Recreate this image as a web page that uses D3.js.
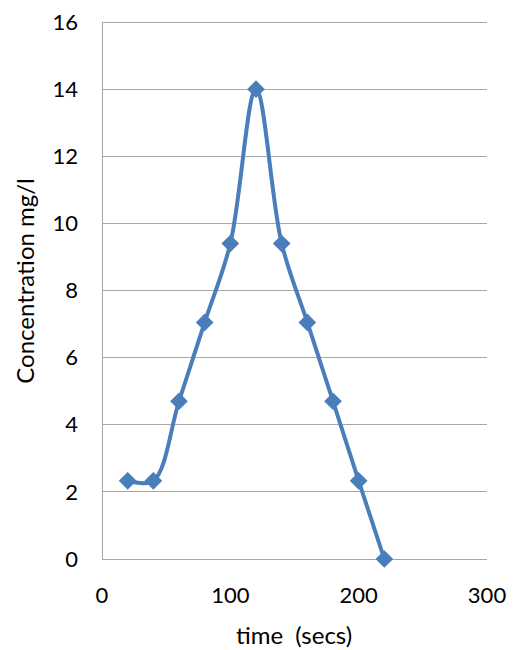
<!DOCTYPE html>
<html><head><meta charset="utf-8">
<script src="https://cdn.jsdelivr.net/npm/d3@7"></script>
<style>body{margin:0;background:#fff}svg{display:block}</style>
</head><body>
<svg id="c" width="515" height="650"></svg>
<script>
const times = [20, 40, 60, 80, 100, 120, 140, 160, 180, 200, 220];
const concentration = [2.33, 2.33, 4.7, 7.05, 9.4, 14, 9.4, 7.05, 4.7, 2.33, 0];
const xTicks = [0, 100, 200, 300];
const yTicks = [0, 2, 4, 6, 8, 10, 12, 14, 16];
const xTitle = "time  (secs)";
const yTitle = "Concentration mg/l";

const svg = d3.select("#c");
const L = 102, R = 487, T = 22, B = 559;
const x = d3.scaleLinear().domain([0, 300]).range([L, R]);
const y = d3.scaleLinear().domain([0, 16]).range([B, T]);
const font = "Lato, 'Open Sans', sans-serif";
const grid = "#a6a6a6";
const fs = 22;

svg.append("g").selectAll("line").data(yTicks).join("line")
  .attr("x1", L).attr("x2", R).attr("y1", d => y(d)).attr("y2", d => y(d))
  .attr("stroke", grid).attr("stroke-width", 1).attr("shape-rendering", "crispEdges");
svg.append("line").attr("x1", L).attr("x2", L).attr("y1", T).attr("y2", B)
  .attr("stroke", grid).attr("stroke-width", 1).attr("shape-rendering", "crispEdges");

svg.append("g").selectAll("text").data(yTicks).join("text")
  .attr("x", 78).attr("y", d => y(d)).attr("dy", "0.35em")
  .attr("text-anchor", "end").attr("font-family", font).attr("font-size", fs)
  .attr("fill", "#000").text(d => d);
svg.append("g").selectAll("text").data(xTicks).join("text")
  .attr("x", d => x(d)).attr("y", 595).attr("dy", "0.35em")
  .attr("text-anchor", "middle").attr("font-family", font).attr("font-size", fs)
  .attr("fill", "#000").text(d => d);

svg.append("text").attr("x", 294).attr("y", 636).attr("dy", "0.35em")
  .attr("text-anchor", "middle").attr("font-family", font).attr("font-size", 24)
  .attr("xml:space", "preserve").style("white-space", "pre").text(xTitle);
svg.append("text").attr("transform", "translate(26,281) rotate(-90)").attr("dy", "0.35em")
  .attr("text-anchor", "middle").attr("font-family", font).attr("font-size", 24)
  .text(yTitle);

const pts = times.map((t, i) => [t, concentration[i]]);
const line = d3.line().x(d => x(d[0])).y(d => y(d[1])).curve(d3.curveCatmullRom.alpha(0.5));
const col = "#4a7ebb";
svg.append("path").datum(pts).attr("d", line).attr("fill", "none")
  .attr("stroke", col).attr("stroke-width", 4).attr("stroke-linejoin", "round");

const sym = d3.symbol().type(d3.symbolDiamond2).size(200);
svg.append("g").selectAll("path").data(pts).join("path")
  .attr("d", sym).attr("transform", d => `translate(${x(d[0])},${y(d[1])})`)
  .attr("fill", col);
</script>
</body></html>
